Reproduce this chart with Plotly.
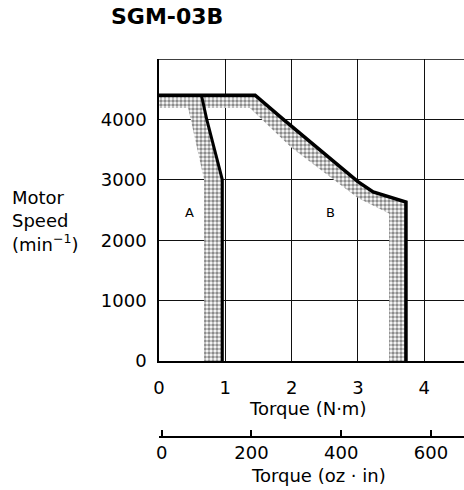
import plotly.graph_objects as go

# ---- data ----
torque_ticks = [0, 1, 2, 3, 4]
speed_ticks = [0, 1000, 2000, 3000, 4000]
oz_ticks = [0, 200, 400, 600]

# continuous duty zone A boundary (N·m, min^-1)
a_line_x = [0.64, 0.72, 0.955, 0.955]
a_line_y = [4400, 4000, 3000, 0]
# intermittent duty zone B boundary
b_line_x = [0, 1.45, 1.875, 2.33, 2.5, 3.0, 3.23, 3.725, 3.725]
b_line_y = [4400, 4400, 4000, 3580, 3420, 2970, 2800, 2630, 0]
# shaded tolerance bands
a_band_x = [0.40, 0.64, 0.72, 0.94, 0.94, 0.68, 0.68, 0.44]
a_band_y = [4400, 4400, 4000, 3000, 0, 0, 3000, 4190]
b_band_x = [0, 1.45, 1.875, 2.33, 3.0, 3.23, 3.72, 3.72, 3.47, 3.47, 3.0, 2.0, 1.37, 0]
b_band_y = [4400, 4400, 4000, 3580, 2970, 2800, 2630, 0, 0, 2440, 2700, 3530, 4190, 4190]

W, H = 464, 490
L, R, T, B = 159, 0, 59, 0
pw, ph = W - L - R, H - T - B

def fy(py):  # pixel y -> paper fraction
    return (H - B - py) / ph

def fx(px):
    return (px - L) / pw

FONT = "DejaVu Sans"
pattern = dict(shape=".", fgcolor="#1a1a1a", bgcolor="white", size=4, solidity=0.6)

fig = go.Figure()
fig.add_trace(go.Scatter(x=b_band_x, y=b_band_y, fill="toself", mode="none",
                         fillpattern=pattern, fillcolor="white", hoverinfo="skip"))
fig.add_trace(go.Scatter(x=a_band_x, y=a_band_y, fill="toself", mode="none",
                         fillpattern=pattern, fillcolor="white", hoverinfo="skip"))
fig.add_trace(go.Scatter(x=b_line_x, y=b_line_y, mode="lines",
                         line=dict(color="black", width=3.5)))
fig.add_trace(go.Scatter(x=a_line_x, y=a_line_y, mode="lines",
                         line=dict(color="black", width=3)))
# dummy trace to activate second torque axis
fig.add_trace(go.Scatter(x=[0, 600], y=[-100, -100], xaxis="x2", mode="lines",
                         line=dict(color="rgba(0,0,0,0)"), hoverinfo="skip"))

x_max = pw / 66.3
oz_px = 0.4488
oz_left = -(161.7 - L) / oz_px
oz_right = (W - 161.7) / oz_px

fig.update_layout(
    width=W, height=H, margin=dict(l=L, r=R, t=T, b=B, autoexpand=False),
    paper_bgcolor="white", plot_bgcolor="white", showlegend=False,
    font=dict(family=FONT, size=18, color="black"),
    xaxis=dict(domain=[0, 1], range=[0, x_max], tickvals=torque_ticks,
               showgrid=True, gridcolor="#111", gridwidth=1,
               showline=True, linecolor="black", linewidth=1.5,
               zeroline=False, ticks="", ticklabelstandoff=10, automargin=False,
               tickfont=dict(size=18), fixedrange=True),
    yaxis=dict(domain=[fy(361), 1], range=[0, 5000], tickvals=speed_ticks,
               showgrid=True, gridcolor="#111", gridwidth=1,
               showline=True, linecolor="black", linewidth=1.5,
               zeroline=False, ticks="", ticklabelstandoff=7, automargin=False,
               tickfont=dict(size=18), fixedrange=True),
    xaxis2=dict(overlaying="x", anchor="free", position=fy(437),
                range=[oz_left, oz_right], tickvals=oz_ticks,
                showgrid=False, zeroline=False, showline=True,
                linecolor="black", linewidth=1.5, ticks="inside",
                ticklen=6, tickwidth=1.5, tickcolor="black", automargin=False,
                ticklabelstandoff=0, tickfont=dict(size=18), fixedrange=True),
)

# top border of plot
fig.add_shape(type="line", xref="paper", yref="y", x0=0, x1=1, y0=5000, y1=5000,
              line=dict(color="black", width=1.5))

ann = [
    dict(text="<b>SGM-03B</b>", x=167, y=17, size=22),
    dict(text="Torque (N·m)", x=307, y=408, size=18),
    dict(text="Torque (oz · in)", x=318, y=475, size=18),
]
for a in ann:
    fig.add_annotation(text=a["text"], xref="paper", yref="paper",
                       x=fx(a["x"]), y=fy(a["y"]), xanchor="center", yanchor="middle",
                       showarrow=False, font=dict(family=FONT, size=a["size"], color="black"))

fig.add_annotation(text="Motor<br>Speed<br>(min<sup>−1</sup>)", xref="paper", yref="paper",
                   x=fx(10), y=fy(221), xanchor="left", yanchor="middle", align="left",
                   showarrow=False, font=dict(family=FONT, size=18, color="black"))

fig.add_annotation(text="A", x=0.46, y=2455, showarrow=False,
                   font=dict(family=FONT, size=13, color="black"))
fig.add_annotation(text="B", x=2.58, y=2455, showarrow=False,
                   font=dict(family=FONT, size=13, color="black"))

fig.write_html("out.html")
